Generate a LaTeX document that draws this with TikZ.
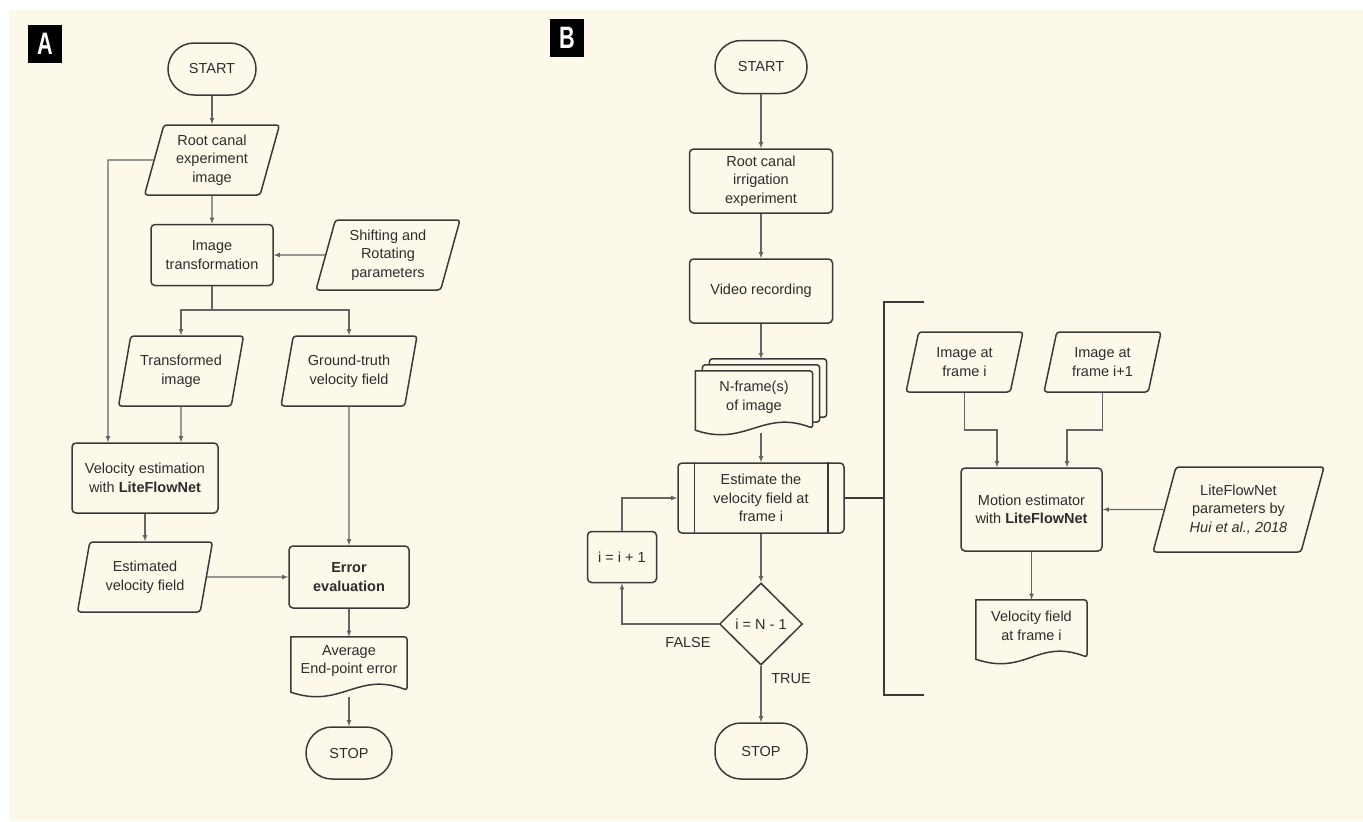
\documentclass[tikz,border=0pt]{standalone}
\usepackage{fontspec}
\setmainfont{Liberation Sans}
\usetikzlibrary{positioning}
\usetikzlibrary{backgrounds, shapes}
\usetikzlibrary{shapes.geometric}
\usetikzlibrary{arrows}

\definecolor{paper}{RGB}{252,248,234}
\definecolor{outline}{RGB}{58,58,58}
\definecolor{wire}{RGB}{100,100,100}
\definecolor{ink}{RGB}{45,45,45}

% wavy outline of a document node
\newcommand{\docedge}[1]{%
	\draw[draw=outline, line width=1.5pt, rounded corners=3pt] (#1.north west) -- (#1.north east) -- ([yshift=-5pt]#1.south east)
	[sharp corners] .. controls +(-50pt,19pt) and +(50pt,-17pt) .. ([yshift=-7pt]#1.south west) -- cycle;}

\begin{document}
\begin{tikzpicture}[x=1pt, y=-1pt, >=latex,
		every node/.style={font=\fontsize{14.5}{18.5}\selectfont, text=ink},
		tag/.style={fill=black, text=white, minimum width=34pt, minimum height=38pt, inner sep=0pt, font=\fontsize{31}{31}\selectfont\bfseries},
		terminal/.style={draw=outline, line width=1.5pt, rectangle, rounded corners=26pt, minimum width=88pt, minimum height=52pt},
		process/.style={draw=outline, line width=1.5pt, rectangle, rounded corners=4pt, align=center, inner sep=2pt},
		io/.style={draw=outline, line width=1.5pt, trapezium, trapezium left angle=69, trapezium right angle=111,
			trapezium stretches body, rounded corners=3pt, align=center, inner sep=0pt},
		decision/.style={draw=outline, line width=1.5pt, diamond, aspect=1, inner sep=0pt},
		doc/.style={align=center, inner sep=0pt},
		flow/.style={draw=wire, line width=1.1pt, ->},
		flowline/.style={draw=wire, line width=1.1pt},
		bracket/.style={draw=outline, line width=1.7pt},
	]
	\begin{scope}[on background layer]
		\fill[white] (0,0) rectangle (1363,822);
		\fill[paper] (9,10) rectangle (1363,821);
	\end{scope}
	
	% ---- A ----
	\node[tag] (tagA) at (45,44) {\scalebox{0.7}[1]{A}};
	\node[terminal] (startA) at (212,69) {START};
	\node[io, minimum width=135pt, minimum height=70pt] (rootA) at (212,160) {Root canal\\experiment\\image};
	\node[process, minimum width=122pt, minimum height=61pt] (transA) at (212,255) {Image\\transformation};
	\node[io, minimum width=144pt, minimum height=70pt] (shiftA) at (388,255) {Shifting and\\Rotating\\parameters};
	\node[io, minimum width=125pt, minimum height=70pt] (tfA) at (181,371) {Transformed\\image};
	\node[io, minimum width=136pt, minimum height=70pt] (gtA) at (349,371) {Ground-truth\\velocity field};
	\node[process, minimum width=146pt, minimum height=70pt] (velA) at (145,478) {Velocity estimation\\with \textbf{LiteFlowNet}};
	\node[io, minimum width=135pt, minimum height=70pt] (estA) at (145,577) {Estimated\\velocity field};
	\node[process, minimum width=120pt, minimum height=62pt] (errA) at (349,577) {\textbf{Error}\\\textbf{evaluation}};
	\node[doc, minimum width=116pt, minimum height=48pt] (avgA) at (349,661) {Average\\End-point error};
	\docedge{avgA}
	\node[terminal, minimum width=86pt] (stopA) at (349,753) {STOP};
	
	\coordinate (splitA) at (212,310);
	\coordinate (loopA) at (108,160);
	\draw[flow] (startA) -- (rootA);
	\draw[flow] (rootA) -- (transA);
	\draw[flow] (shiftA) -- (transA);
	\draw[flowline] (transA) -- (splitA);
	\draw[flow] (splitA) -| (tfA);
	\draw[flow] (splitA) -| (gtA);
	\draw[flow] (rootA.west) -- (loopA) -- (loopA |- velA.north);
	\draw[flow] (tfA) -- (tfA |- velA.north);
	\draw[flow] (velA) -- (estA);
	\draw[flow] (estA) -- (errA);
	\draw[flow] (gtA) -- (errA);
	\draw[flow] (errA) -- (avgA);
	\draw[flow] ([yshift=-12pt]avgA.south) -- (stopA);
	
	% ---- B ----
	\node[tag] (tagB) at (567,38) {\scalebox{0.7}[1]{B}};
	\node[terminal, minimum width=92pt, minimum height=53pt] (startB) at (761,67) {START};
	\node[process, minimum width=143pt, minimum height=64pt] (rootB) at (761,181) {Root canal\\irrigation\\experiment};
	\node[process, minimum width=143pt, minimum height=64pt] (vidB) at (761,291) {Video recording};
	\node[doc, minimum width=117pt, minimum height=52pt] (nfB) at (754,397) {N-frame(s)\\of image};
	\begin{scope}[on background layer]
		\draw[draw=outline, line width=1.5pt, fill=paper, rounded corners=3pt] ([xshift=14pt, yshift=12pt]nfB.north west) rectangle ([xshift=14pt, yshift=6pt]nfB.south east);
		\draw[draw=outline, line width=1.5pt, fill=paper, rounded corners=3pt] ([xshift=7pt, yshift=6pt]nfB.north west) rectangle ([xshift=7pt, yshift=1pt]nfB.south east);
		\fill[paper] (nfB.north west) -- (nfB.north east) -- ([yshift=-5pt]nfB.south east)
		.. controls +(-50pt,19pt) and +(50pt,-17pt) .. ([yshift=-7pt]nfB.south west) -- cycle;
	\end{scope}
	\docedge{nfB}
	\node[process, minimum width=166pt, minimum height=70pt] (estB) at (761,498) {Estimate the\\velocity field at\\frame i};
	\draw[draw=outline, line width=1.5pt] ([xshift=17pt]estB.north west) -- ([xshift=17pt]estB.south west);
	\draw[draw=outline, line width=1.5pt] ([xshift=-17pt]estB.north east) -- ([xshift=-17pt]estB.south east);
	\node[process, minimum width=69pt, minimum height=51pt] (incB) at (622,557) {i = i + 1};
	\node[decision, minimum width=83pt, minimum height=82pt] (decB) at (761,624) {i = N - 1};
	\node[terminal, minimum width=92pt, minimum height=56pt] (stopB) at (761,751) {STOP};
	\node (falseB) at (688,642) {FALSE};
	\node (trueB) at (791,679) {TRUE};
	
	\coordinate (nfIn) at (761,359);
	\coordinate (nfOut) at (761,433);
	\draw[flow] (startB) -- (rootB);
	\draw[flow] (rootB) -- (vidB);
	\draw[flow] (vidB) -- (nfIn);
	\draw[flow] (nfOut) -- (estB);
	\draw[flow] (estB) -- (decB);
	\draw[flow] (decB) -- (stopB);
	\draw[flow] (decB) -| (incB);
	\draw[flow] (incB) |- (estB);
	
	% bracket round the motion step
	\coordinate (brkMid) at (884,498);
	\coordinate (brkTop) at (924,302);
	\coordinate (brkBot) at (924,695);
	\draw[bracket] (estB) -- (brkMid);
	\draw[bracket] (brkTop) -| (brkMid) |- (brkBot);
	
	\node[io, minimum width=117pt, minimum height=60pt, trapezium left angle=66, trapezium right angle=114] (imgiB) at (964.5,362) {Image at\\frame i};
	\node[io, minimum width=117pt, minimum height=60pt, trapezium left angle=66, trapezium right angle=114] (imgjB) at (1102.5,362) {Image at\\frame i+1};
	\node[process, minimum width=141pt, minimum height=83pt] (motB) at (1031.5,509.5) {Motion estimator\\with \textbf{LiteFlowNet}};
	\node[io, minimum width=171pt, minimum height=85pt, trapezium left angle=65, trapezium right angle=115] (parB) at (1238.5,509.5) {LiteFlowNet\\parameters by\\\textit{Hui et al., 2018}};
	\node[doc, minimum width=111pt, minimum height=52pt] (vfB) at (1031.5,626) {Velocity field\\at frame i};
	\docedge{vfB}
	
	\coordinate (jointI) at (997,430);
	\coordinate (jointJ) at (1067,430);
	\draw[flow] (imgiB) |- (jointI) -- (jointI |- motB.north);
	\draw[flow] (imgjB) |- (jointJ) -- (jointJ |- motB.north);
	\draw[flow] (parB) -- (motB);
	\draw[flow] (motB) -- (vfB);
\end{tikzpicture}
\end{document}
